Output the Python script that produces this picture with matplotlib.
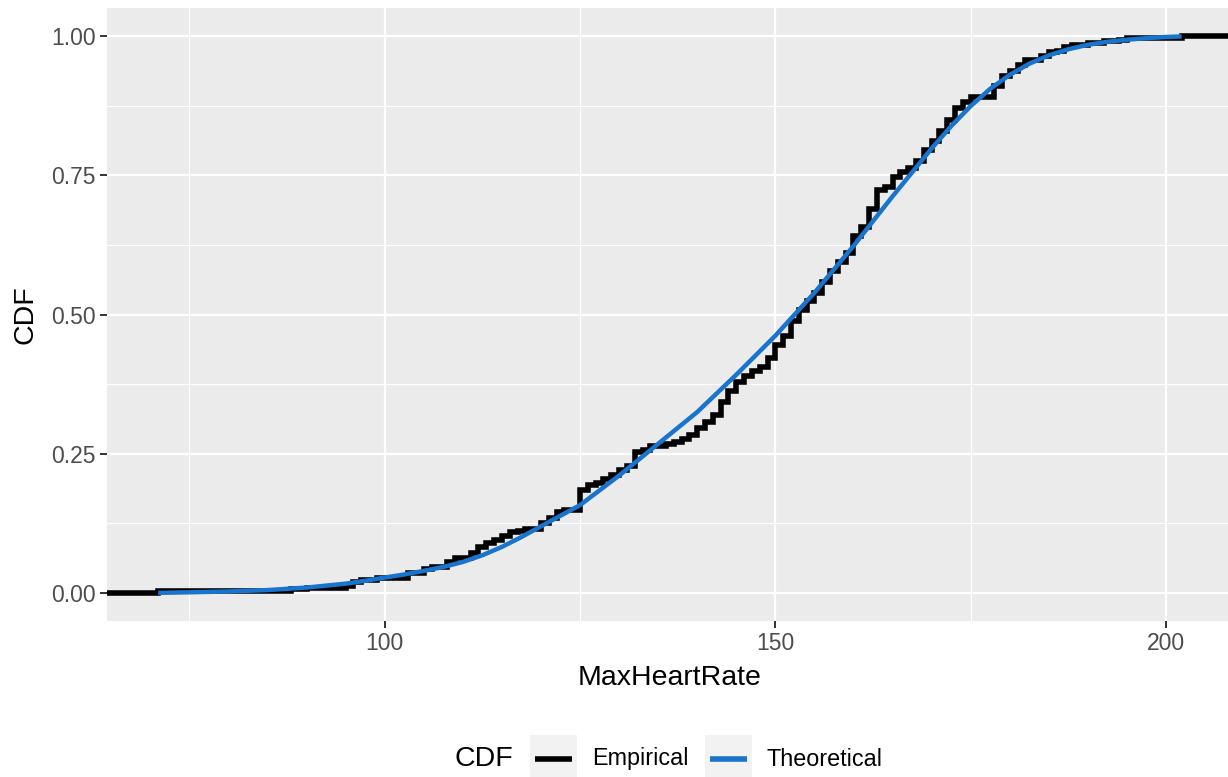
import matplotlib
matplotlib.use("Agg")
import matplotlib.pyplot as plt
from matplotlib.lines import Line2D
from matplotlib.patches import Rectangle

plt.rcParams['font.family'] = ['Liberation Sans', 'DejaVu Sans']

# Empirical CDF steps (value, cumulative proportion after the step)
emp_x = [71, 88, 90, 95, 96, 97, 99, 103, 105, 106, 108, 109, 111, 112, 113, 114,
         115, 116, 117, 118, 120, 121, 122, 123, 125, 126, 127, 128, 129, 130, 131,
         132, 133, 134, 136, 137, 138, 139, 140, 141, 142, 143, 144, 145, 146, 147,
         148, 149, 150, 151, 152, 153, 154, 155, 156, 157, 158, 159, 160, 161, 162,
         163, 164, 165, 166, 167, 168, 169, 170, 171, 172, 173, 174, 175, 178,
         179, 180, 181, 182, 184, 185, 186, 187, 188, 190, 192, 194, 195, 202]
emp_y = [0.0033, 0.0066, 0.0099, 0.0132, 0.0198, 0.0231, 0.0264, 0.0363, 0.0429,
         0.0462, 0.0561, 0.0627, 0.0726, 0.0825, 0.0891, 0.0957, 0.1023, 0.1089,
         0.1122, 0.1155, 0.1254, 0.1353, 0.1452, 0.1485, 0.1848, 0.1947, 0.1980,
         0.2046, 0.2112, 0.2211, 0.2277, 0.2541, 0.2574, 0.2640, 0.2673, 0.2706,
         0.2772, 0.2838, 0.2970, 0.3069, 0.3201, 0.3432, 0.3630, 0.3795, 0.3894,
         0.3993, 0.4059, 0.4224, 0.4455, 0.4620, 0.4884, 0.5083, 0.5248, 0.5380,
         0.5578, 0.5776, 0.5941, 0.6106, 0.6403, 0.6568, 0.6898, 0.7228, 0.7294,
         0.7459, 0.7558, 0.7624, 0.7756, 0.7954, 0.8119, 0.8284, 0.8482, 0.8713,
         0.8812, 0.8911, 0.9109, 0.9274, 0.9373, 0.9472, 0.9571, 0.9637,
         0.9703, 0.9736, 0.9802, 0.9835, 0.9868, 0.9901, 0.9934, 0.9967, 1.0]

# Theoretical CDF
theo_x = [71, 75, 80, 85, 90, 95, 97.5, 100, 102.5, 105, 107.5, 110, 112.5, 115,
          117.5, 120, 125, 130, 135, 140, 145, 150, 155, 160, 165, 170, 172.5,
          175, 177.5, 180, 182.5, 185, 187.5, 190, 192.5, 195, 197.5, 200, 202]
theo_y = [0.0005, 0.0015, 0.003, 0.0055, 0.010, 0.017, 0.0221, 0.028, 0.0335,
          0.040, 0.047, 0.056, 0.068, 0.083, 0.1007, 0.120, 0.158, 0.211, 0.268,
          0.325, 0.392, 0.462, 0.539, 0.623, 0.712, 0.798, 0.838, 0.874, 0.905,
          0.930, 0.950, 0.965, 0.976, 0.984, 0.9894, 0.993, 0.9959, 0.998, 0.999]

x_ticks = [100, 150, 200]
x_minor = [75, 125, 175]
y_ticks = [0.0, 0.25, 0.5, 0.75, 1.0]
y_tick_labels = ["0.00", "0.25", "0.50", "0.75", "1.00"]
y_minor = [0.125, 0.375, 0.625, 0.875]

W, H = 1228, 777
fig = plt.figure(figsize=(W / 100, H / 100), dpi=100)
fig.patch.set_facecolor('white')

xmin, xmax = 64.45, 208.55
ymin, ymax = -0.05, 1.05
left, right, top, bottom = 107, 1232.8, 8, 621
ax = fig.add_axes([left / W, 1 - bottom / H, (right - left) / W, (bottom - top) / H])
ax.set_facecolor('#EBEBEB')
ax.set_xlim(xmin, xmax)
ax.set_ylim(ymin, ymax)
for s in ax.spines.values():
    s.set_visible(False)

for v in x_minor:
    ax.axvline(v, color='white', lw=0.8, zorder=0.5)
for v in y_minor:
    ax.axhline(v, color='white', lw=0.8, zorder=0.5)
for v in x_ticks:
    ax.axvline(v, color='white', lw=1.6, zorder=0.6)
for v in y_ticks:
    ax.axhline(v, color='white', lw=1.6, zorder=0.6)

sx = [xmin] + emp_x + [xmax]
sy = [0.0] + emp_y + [1.0]
ax.step(sx, sy, where='post', color='black', lw=4.0, solid_joinstyle='miter',
        solid_capstyle='butt', zorder=2)
ax.plot(theo_x, theo_y, color='#1874CD', lw=3.2, solid_capstyle='butt',
        solid_joinstyle='round', zorder=3)

ax.set_xticks(x_ticks)
ax.set_xticklabels([str(v) for v in x_ticks])
ax.set_yticks(y_ticks)
ax.set_yticklabels(y_tick_labels)
ax.tick_params(axis='both', which='major', length=5, width=1.4, color='#333333',
               labelcolor='#4D4D4D', labelsize=16.5, pad=3)

ax.set_xlabel('MaxHeartRate', fontsize=20.5, color='black', labelpad=7)
ax.set_ylabel('CDF', fontsize=20.5, color='black', labelpad=9)

# Legend (bottom, horizontal)
def fx(px):
    return px / W

def fy(py):
    return 1 - py / H

fig.text(fx(455), fy(759), 'CDF', fontsize=20.5, va='center', ha='left', color='black')
keys = [(530, 'black', 'Empirical', 592), (705, '#1874CD', 'Theoretical', 766)]
for kx, col, lab, tx in keys:
    fig.patches.append(Rectangle((fx(kx), fy(782)), fx(47), 47 / H, transform=fig.transFigure,
                                 facecolor='#F2F2F2', edgecolor='none'))
    fig.lines.append(Line2D([fx(kx + 5), fx(kx + 42)], [fy(759), fy(759)],
                            transform=fig.transFigure, color=col, lw=4.0,
                            solid_capstyle='butt'))
    fig.text(fx(tx), fy(759), lab, fontsize=16.8, va='center', ha='left', color='black')

fig.savefig('out.png', dpi=100)
